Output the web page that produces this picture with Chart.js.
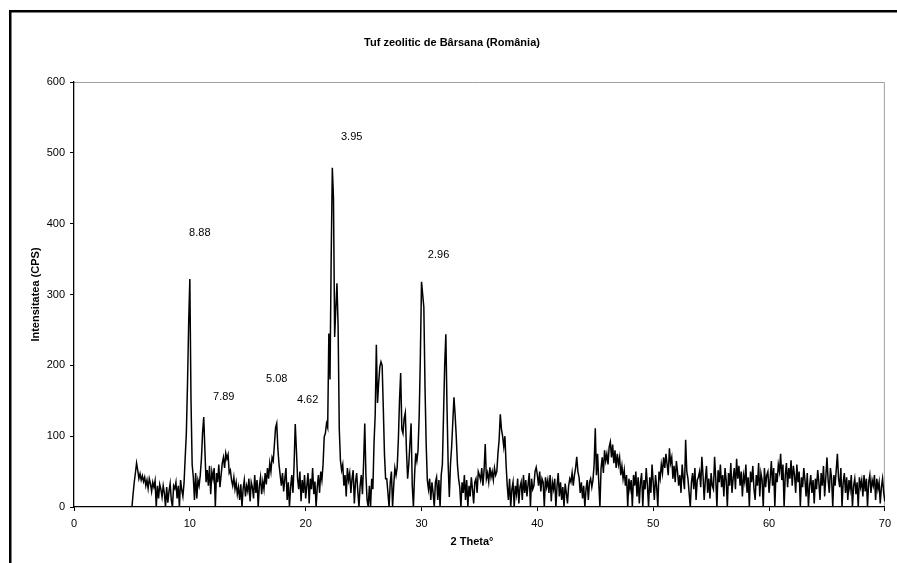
<!DOCTYPE html>
<html>
<head>
<meta charset="utf-8">
<script src="https://cdn.jsdelivr.net/npm/chart.js@4.4.1/dist/chart.umd.min.js"></script>
<style>
    body { margin: 0; background: #fff; }
    canvas { display: block; }
</style>
</head>
<body>
<canvas id="xrd" width="897" height="563"></canvas>
<script>
// Tuf zeolitic de Barsana - XRD, pas 0.1 grade 2 Theta, de la 5 la 70
const thetaStart = 5;
const thetaStep = 0.1;
const intensity = [
    0, 18, 35, 48, 62, 52, 40, 47, 38, 44,
    36, 42, 30, 38, 26, 40, 33, 22, 35, 28,
    37, 0, 30, 12, 32, 25, 14, 30, 20, 0,
    28, 6, 22, 33, 10, 0, 30, 26, 35, 12,
    30, 0, 38, 24, 15, 34, 70, 105, 175, 260,
    322, 150, 60, 42, 10, 48, 12, 38, 30, 45,
    68, 105, 127, 80, 35, 52, 30, 58, 18, 50,
    40, 55, 0, 48, 35, 60, 28, 45, 62, 70,
    55, 76, 68, 74, 48, 52, 38, 30, 42, 25,
    35, 18, 28, 10, 32, 0, 26, 38, 15, 30,
    22, 40, 8, 35, 28, 12, 45, 20, 38, 0,
    30, 42, 18, 36, 25, 48, 32, 55, 40, 62,
    50, 70, 65, 88, 112, 118, 82, 60, 45, 30,
    48, 22, 40, 55, 10, 35, 0, 28, 45, 20,
    60, 117, 80, 40, 25, 50, 8, 38, 20, 45,
    12, 30, 48, 5, 40, 25, 55, 18, 36, 0,
    28, 45, 20, 50, 38, 60, 99, 104, 118, 112,
    245, 180, 350, 479, 436, 240, 280, 316, 254, 110,
    66, 52, 60, 30, 45, 15, 55, 38, 48, 20,
    40, 52, 5, 35, 48, 22, 0, 30, 45, 18,
    62, 118, 45, 10, 0, 30, 0, 40, 25, 90,
    130, 229, 147, 175, 198, 205, 200, 140, 75, 40,
    40, 20, 0, 35, 50, 0, 30, 55, 45, 56,
    95, 150, 189, 110, 104, 125, 133, 80, 40, 60,
    90, 118, 30, 0, 45, 76, 65, 80, 130, 212,
    318, 300, 282, 170, 90, 38, 25, 40, 10, 35,
    20, 0, 35, 42, 10, 38, 0, 45, 60, 130,
    200, 244, 141, 60, 14, 60, 85, 120, 155, 130,
    99, 60, 40, 28, 0, 35, 20, 45, 10, 38,
    0, 30, 15, 42, 25, 5, 35, 40, 20, 50,
    45, 38, 55, 30, 52, 89, 40, 48, 35, 56,
    42, 50, 38, 55, 45, 50, 76, 95, 131, 110,
    100, 85, 100, 60, 30, 10, 40, 0, 25, 35,
    0, 30, 18, 40, 5, 28, 35, 10, 45, 20,
    38, 15, 32, 48, 0, 40, 25, 30, 50, 56,
    45, 30, 50, 22, 40, 35, 0, 42, 28, 38,
    20, 45, 8, 35, 25, 40, 0, 30, 48, 15,
    35, 10, 28, 0, 33, 20, 5, 30, 40, 35,
    48, 30, 45, 55, 71, 50, 42, 20, 35, 12,
    30, 0, 25, 38, 10, 35, 40, 28, 38, 60,
    111, 45, 75, 35, 0, 55, 70, 48, 80, 65,
    75, 60, 85, 92, 70, 88, 62, 80, 55, 75,
    60, 70, 45, 58, 40, 52, 30, 45, 0, 40,
    25, 38, 0, 45, 30, 50, 15, 42, 5, 35,
    48, 0, 38, 25, 55, 30, 0, 42, 20, 60,
    35, 10, 45, 28, 0, 50, 40, 60, 48, 70,
    55, 75, 60, 45, 83, 62, 70, 40, 58, 35,
    65, 50, 30, 45, 20, 60, 40, 25, 95, 50,
    40, 20, 0, 35, 48, 25, 55, 10, 38, 42,
    50, 28, 71, 45, 10, 38, 58, 20, 40, 12,
    48, 30, 25, 71, 40, 0, 52, 35, 60, 28,
    45, 15, 55, 38, 0, 48, 30, 62, 20, 40,
    55, 25, 68, 40, 58, 30, 50, 15, 45, 35,
    60, 20, 42, 0, 50, 35, 58, 25, 10, 45,
    30, 62, 15, 48, 38, 0, 55, 28, 45, 50,
    20, 40, 65, 30, 55, 0, 48, 35, 60, 50,
    75, 38, 60, 0, 45, 62, 28, 55, 40, 66,
    30, 58, 45, 20, 60, 35, 50, 0, 42, 28,
    55, 38, 15, 48, 0, 30, 45, 20, 38, 5,
    40, 25, 52, 35, 10, 48, 30, 58, 15, 42,
    70, 38, 20, 55, 40, 0, 45, 30, 52, 75,
    40, 28, 55, 0, 35, 48, 20, 42, 10, 38,
    25, 45, 0, 30, 40, 18, 35, 0, 42, 28,
    38, 15, 45, 22, 40, 0, 35, 45, 20, 38,
    30, 45, 10, 40, 25, 35, 5, 28, 40, 20,
    8
];

// distantele interplanare d (A) scrise langa picuri
const peakLabels = ['8.88', '7.89', '5.08', '4.62', '3.95', '2.96'];
const peakLabelTheta = [10.86, 12.93, 17.5, 20.17, 23.97, 31.47];
const peakLabelCps = [387, 155, 181, 151, 522, 356];

const chartTitle = 'Tuf zeolitic de Bârsana (România)';
const xTitle = '2 Theta°';
const yTitle = 'Intensitatea (CPS)';

const font = '"Liberation Sans", Arial, sans-serif';

const points = intensity.map((v, i) => ({ x: +(thetaStart + i * thetaStep).toFixed(2), y: v }));

const decor = {
    id: 'decor',
    beforeDraw(chart) {
        const ctx = chart.ctx;
        const a = chart.chartArea;
        ctx.save();
        ctx.fillStyle = '#fff';
        ctx.fillRect(0, 0, chart.width, chart.height);
        // rama exterioara
        ctx.fillStyle = '#000';
        ctx.fillRect(9, 10, chart.width, 2.5);
        ctx.fillRect(9, 10, 2.5, chart.height);
        // marginea gri a zonei de grafic
        ctx.strokeStyle = '#a0a0a0';
        ctx.lineWidth = 1;
        ctx.beginPath();
        ctx.moveTo(a.left, a.top + 0.5);
        ctx.lineTo(a.right - 0.5, a.top + 0.5);
        ctx.lineTo(a.right - 0.5, a.bottom);
        ctx.stroke();
        ctx.restore();
    },
    afterDraw(chart) {
        const ctx = chart.ctx;
        const a = chart.chartArea;
        const x = chart.scales.x;
        const y = chart.scales.y;
        ctx.save();
        ctx.fillStyle = '#000';
        ctx.textAlign = 'center';
        ctx.textBaseline = 'middle';
        ctx.font = 'bold 11px ' + font;
        ctx.fillText(chartTitle, 452, 43);
        ctx.fillText(xTitle, 472, 542);
        ctx.save();
        ctx.translate(36, (a.top + a.bottom) / 2);
        ctx.rotate(-Math.PI / 2);
        ctx.fillText(yTitle, 0, 0);
        ctx.restore();
        ctx.font = '11px ' + font;
        peakLabels.forEach((t, i) => {
            ctx.fillText(t, x.getPixelForValue(peakLabelTheta[i]), y.getPixelForValue(peakLabelCps[i]));
        });
        ctx.restore();
    }
};

new Chart(document.getElementById('xrd'), {
    type: 'line',
    data: {
        datasets: [{
            data: points,
            borderColor: '#000',
            borderWidth: 1.5,
            pointRadius: 0,
            tension: 0,
            fill: false
        }]
    },
    options: {
        responsive: false,
        animation: false,
        events: [],
        layout: {
            padding: { top: 82, right: 11, bottom: 0, left: 0 }
        },
        plugins: {
            legend: { display: false },
            title: { display: false },
            tooltip: { enabled: false }
        },
        scales: {
            x: {
                type: 'linear',
                min: 0,
                max: 70,
                afterFit: s => { s.height = 56; },
                ticks: {
                    stepSize: 10,
                    color: '#000',
                    padding: 6,
                    maxRotation: 0,
                    font: { family: font, size: 11 }
                },
                grid: {
                    drawOnChartArea: false,
                    drawTicks: true,
                    tickLength: 4,
                    color: '#000'
                },
                border: { color: '#000', width: 1.3 }
            },
            y: {
                min: 0,
                max: 600,
                afterFit: s => { s.width = 74; },
                ticks: {
                    stepSize: 100,
                    color: '#000',
                    padding: 5,
                    font: { family: font, size: 11 }
                },
                grid: {
                    drawOnChartArea: false,
                    drawTicks: true,
                    tickLength: 4,
                    color: '#000'
                },
                border: { color: '#000', width: 1.3 }
            }
        }
    },
    plugins: [decor]
});
</script>
</body>
</html>
